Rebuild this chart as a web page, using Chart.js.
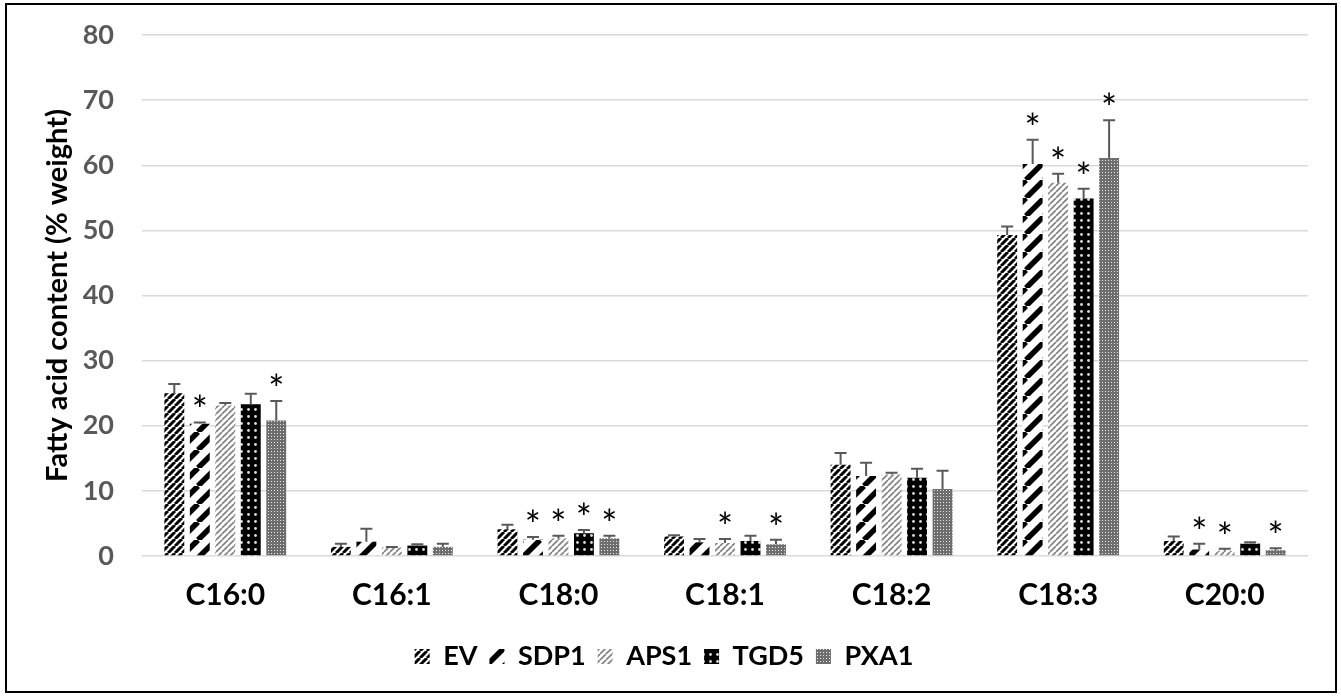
<!DOCTYPE html>
<html>
<head>
<meta charset="utf-8">
<script src="https://cdn.jsdelivr.net/npm/chart.js@4.4.1/dist/chart.umd.min.js"></script>
<style>
  html, body { margin: 0; padding: 0; background: #fff; }
</style>
</head>
<body>
<canvas id="acidosChart" width="1341" height="698"></canvas>
<script>
// Datos
var categorias = ['C16:0', 'C16:1', 'C18:0', 'C18:1', 'C18:2', 'C18:3', 'C20:0'];
var series = ['EV', 'SDP1', 'APS1', 'TGD5', 'PXA1'];

var ev      = [25.0, 1.4, 4.1, 3.0, 14.0, 49.3, 2.3];
var sdp1    = [20.3, 2.2, 2.5, 2.1, 12.3, 60.2, 1.0];
var aps1    = [23.1, 1.3, 2.7, 2.0, 12.5, 57.3, 0.8];
var tgd5    = [23.3, 1.6, 3.5, 2.3, 12.0, 54.9, 1.9];
var pxa1    = [20.8, 1.4, 2.7, 1.8, 10.3, 61.1, 0.9];

var evErr   = [1.4, 0.5, 0.7, 0.2, 1.8, 1.3, 0.7];
var sdp1Err = [0.2, 2.0, 0.4, 0.5, 2.0, 3.7, 0.9];
var aps1Err = [0.4, 0.1, 0.4, 0.6, 0.3, 1.4, 0.3];
var tgd5Err = [1.6, 0.2, 0.5, 0.8, 1.4, 1.5, 0.2];
var pxa1Err = [3.0, 0.5, 0.4, 0.7, 2.8, 5.8, 0.3];

// asterisco = diferencia significativa
var evSig   = [0, 0, 0, 0, 0, 0, 0];
var sdp1Sig = [1, 0, 1, 0, 0, 1, 1];
var aps1Sig = [0, 0, 1, 1, 0, 1, 1];
var tgd5Sig = [0, 0, 1, 0, 0, 1, 0];
var pxa1Sig = [1, 0, 1, 1, 0, 1, 1];

var ticksY = [0, 10, 20, 30, 40, 50, 60, 70, 80];

var fuente = "Lato, 'Open Sans', sans-serif";

// Tramas de relleno (estilo Excel)
function trama(w, h, dibujar) {
    var c = document.createElement('canvas');
    c.width = w; c.height = h;
    var g = c.getContext('2d');
    dibujar(g, w, h);
    return g.createPattern(c, 'repeat');
}

function diagonal(s, ancho, color) {
    return trama(s, s, function (g) {
        g.fillStyle = '#fff';
        g.fillRect(0, 0, s, s);
        g.strokeStyle = color;
        g.lineWidth = ancho;
        g.beginPath();
        for (var k = -1; k <= 1; k++) {
            g.moveTo(k * s, s);
            g.lineTo(k * s + s, 0);
        }
        g.stroke();
    });
}

var tramaEV = diagonal(7, 3, '#000');
var tramaSDP1 = diagonal(18, 5.5, '#000');
var tramaAPS1 = diagonal(6, 1.6, '#808080');
var tramaTGD5 = trama(7, 7, function (g) {
    g.fillStyle = '#000';
    g.fillRect(0, 0, 7, 7);
    g.fillStyle = '#dcdcdc';
    g.beginPath();
    g.arc(3.5, 3.5, 1.4, 0, Math.PI * 2);
    g.fill();
});
var tramaPXA1 = trama(3, 3, function (g) {
    g.fillStyle = '#6e6e6e';
    g.fillRect(0, 0, 3, 3);
    g.fillStyle = '#e6e6e6';
    g.fillRect(1, 1, 1, 1);
});

var valores = [ev, sdp1, aps1, tgd5, pxa1];
var errores = [evErr, sdp1Err, aps1Err, tgd5Err, pxa1Err];
var signif = [evSig, sdp1Sig, aps1Sig, tgd5Sig, pxa1Sig];
var tramas = [tramaEV, tramaSDP1, tramaAPS1, tramaTGD5, tramaPXA1];

// Fondo blanco y marco negro
var marco = {
    id: 'marco',
    beforeDraw: function (chart) {
        var ctx = chart.ctx;
        ctx.save();
        ctx.fillStyle = '#fff';
        ctx.fillRect(0, 0, chart.width, chart.height);
        ctx.restore();
    },
    afterDraw: function (chart) {
        var ctx = chart.ctx;
        ctx.save();
        ctx.strokeStyle = '#000';
        ctx.lineWidth = 2;
        ctx.strokeRect(6, 4, 1330, 688);
        ctx.restore();
    }
};

// Barras de error (solo hacia arriba) y asteriscos
var barrasError = {
    id: 'barrasError',
    afterDatasetsDraw: function (chart) {
        var ctx = chart.ctx;
        var y = chart.scales.y;
        ctx.save();
        chart.data.datasets.forEach(function (ds, i) {
            var meta = chart.getDatasetMeta(i);
            meta.data.forEach(function (barra, j) {
                var tope = y.getPixelForValue(ds.data[j] + errores[i][j]);
                ctx.strokeStyle = '#595959';
                ctx.lineWidth = 2;
                ctx.beginPath();
                ctx.moveTo(barra.x, barra.y);
                ctx.lineTo(barra.x, tope);
                ctx.moveTo(barra.x - 6, tope);
                ctx.lineTo(barra.x + 6, tope);
                ctx.stroke();
                if (signif[i][j]) {
                    ctx.fillStyle = '#000';
                    ctx.font = "38px " + fuente;
                    ctx.textAlign = 'center';
                    ctx.textBaseline = 'alphabetic';
                    ctx.fillText('*', barra.x, tope + 2);
                }
            });
        });
        ctx.restore();
    }
};

new Chart(document.getElementById('acidosChart').getContext('2d'), {
    type: 'bar',
    data: {
        labels: categorias,
        datasets: series.map(function (nombre, i) {
            return {
                label: nombre,
                data: valores[i],
                backgroundColor: tramas[i],
                borderWidth: 0,
                categoryPercentage: 0.765,
                barPercentage: 0.78
            };
        })
    },
    options: {
        responsive: false,
        animation: false,
        layout: {
            padding: { left: 20, right: 33, top: 35, bottom: 18 }
        },
        scales: {
            x: {
                grid: { display: false },
                border: { display: false },
                ticks: {
                    color: '#000',
                    padding: 13,
                    font: { family: fuente, size: 30, weight: 'bold' }
                },
                afterFit: function (scale) { scale.height = 75; }
            },
            y: {
                min: 0,
                max: 80,
                afterBuildTicks: function (scale) {
                    scale.ticks = ticksY.map(function (v) { return { value: v }; });
                },
                grid: { color: '#d9d9d9', lineWidth: 1.5, drawTicks: false },
                border: { display: false },
                ticks: {
                    color: '#595959',
                    padding: 28,
                    font: { family: fuente, size: 27, weight: 'bold', lineHeight: 0.5 }
                },
                title: {
                    display: true,
                    text: 'Fatty acid content (% weight)',
                    color: '#000',
                    padding: { top: 20, bottom: 0 },
                    font: { family: fuente, size: 29, weight: 'bold' }
                },
                afterFit: function (scale) { scale.width = 122; }
            }
        },
        plugins: {
            legend: {
                position: 'bottom',
                labels: {
                    color: '#000',
                    boxWidth: 15,
                    boxHeight: 15,
                    padding: 12,
                    font: { family: fuente, size: 27, weight: 'bold' }
                }
            },
            tooltip: { enabled: false }
        }
    },
    plugins: [marco, barrasError]
});
</script>
</body>
</html>
